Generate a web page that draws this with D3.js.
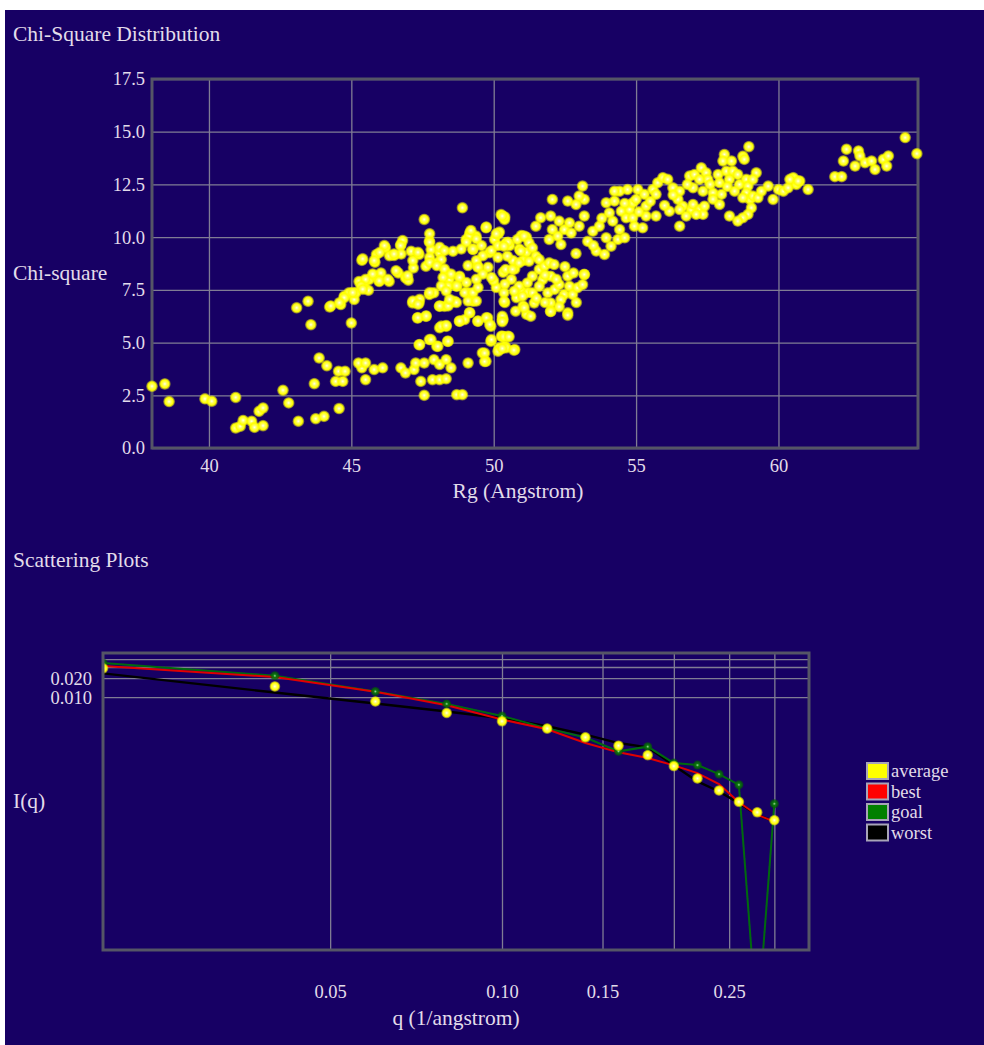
<!DOCTYPE html>
<html>
<head>
<meta charset="utf-8">
<script src="https://cdn.jsdelivr.net/npm/d3@7/dist/d3.min.js"></script>
<style>
  body { margin: 0; background: #fff; }
  svg { display: block; }
  text { font-family: "Liberation Serif", "Times New Roman", serif; fill: #e2dcea; }
  .grid line { stroke: #807c94; stroke-width: 1.3; }
  .grid path { display: none; }
  .lbl path, .lbl line { display: none; }
  .lbl text { font-size: 18.5px; fill: #e2dcea; font-family: "Liberation Serif", "Times New Roman", serif; }
</style>
</head>
<body>
<div id="chart"></div>
<script>
// chi-square scatter, [Rg, chi-square]
const chiPoints = [
  [38.0,2.93],[38.45,3.04],[38.6,2.2],[39.86,2.33],[40.1,2.22],[40.94,2.4],[40.94,0.95],[41.1,1.03],
  [41.2,1.31],[41.5,1.27],[41.6,0.98],[41.76,1.74],[41.9,1.9],[41.9,1.06],[42.6,2.74],[42.8,2.14],
  [43.14,1.27],[43.08,6.65],[43.48,6.96],[43.58,5.85],[43.7,3.05],[43.75,1.39],[44.04,1.5],[43.87,4.27],
  [44.14,3.9],[44.24,6.69],[44.57,1.87],[44.45,3.16],[44.55,3.64],[44.7,3.16],[44.78,3.64],[44.63,6.8],
  [44.75,7.2],[44.92,7.36],[45.1,7.04],[45.16,7.36],[45.0,5.93],[45.37,8.9],[45.27,7.9],[45.45,7.7],
  [45.6,7.48],[45.63,7.99],[45.86,8.15],[45.83,8.81],[45.88,9.18],[46.04,8.3],[45.98,7.9],[46.2,9.49],
  [46.33,7.9],[46.5,9.13],[46.74,9.65],[46.65,8.3],[46.9,8.07],[47.0,7.96],[47.1,9.33],[47.18,8.54],
  [47.38,9.18],[47.62,8.62],[47.74,9.81],[47.8,9.41],[47.56,10.84],[48.0,8.78],[48.1,9.26],[48.16,8.94],
  [48.33,8.3],[48.44,7.99],[48.57,9.33],[48.7,7.67],[48.8,8.15],[48.9,11.39],[49.03,9.89],[49.16,10.2],
  [49.27,9.41],[49.44,8.62],[49.38,10.05],[49.73,10.44],[49.85,9.26],[50.03,9.89],[50.26,11.07],[50.38,10.84],
  [50.43,9.73],[50.14,10.13],
  [47.15,6.88],[47.38,6.88],[47.32,6.17],[47.62,6.25],[47.74,7.28],[47.9,7.36],[48.1,6.72],[48.27,6.72],
  [48.4,7.67],[48.44,6.88],[48.62,6.96],[48.8,6.01],[48.98,6.09],[49.1,7.36],[49.16,6.41],[49.27,6.96],
  [49.44,6.01],[48.1,5.7],[48.33,5.77],[47.74,5.14],[48.0,4.83],[48.38,5.06],[47.38,4.9],[49.79,6.17],
  [49.9,5.77],[50.3,6.09],[50.3,5.3],[49.9,5.06],[50.2,4.67],
  [45.37,3.8],[45.25,4.03],[45.5,4.03],[45.5,3.24],[45.8,3.72],[46.1,3.8],[46.74,3.8],[46.9,3.56],
  [47.2,3.72],[47.26,4.03],[47.44,3.16],[47.56,4.03],[47.9,4.19],[48.1,3.96],[48.33,4.19],[48.5,3.8],
  [47.85,3.24],[48.1,3.24],[48.33,3.28],[47.56,2.5],[48.7,2.53],[48.9,2.53],[49.1,4.03],[49.6,4.51],
  [49.73,4.11],[50.2,4.75],[50.38,4.83],
  [50.39,10.96],[49.74,10.48],[50.2,10.24],[50.09,10.16],[50.97,10.08],[51.15,10.0],[50.56,9.6],[50.9,9.44],
  [51.15,9.28],[51.03,8.89],[50.74,8.49],[50.33,8.33],[50.62,8.0],[50.39,7.77],[50.09,7.61],[50.0,7.93],
  [50.97,7.45],[51.2,7.37],[50.8,7.13],[50.39,6.9],[51.03,6.74],[51.15,6.34],[50.33,6.1],[50.27,5.3],
  [50.5,5.3],[49.92,5.14],[50.15,4.59],[50.44,4.75],[50.74,4.67],[49.68,4.5],[49.68,4.1],
  [47.75,10.16],[47.75,9.76],[48.1,9.52],[48.27,9.36],[47.75,9.04],[47.75,8.8],[48.0,8.65],[48.27,8.49],
  [48.5,8.25],[48.8,8.09],[48.22,8.09],[48.16,7.69],[48.7,7.69],[48.33,7.45],[47.75,7.37],[47.4,7.05],
  [47.16,6.97],[47.34,6.82],[48.1,6.74],[48.4,6.74],[48.69,6.9],[48.45,7.05],[49.1,6.97],[49.39,6.97],
  [48.98,7.37],[49.27,7.37],[49.45,7.61],[49.45,6.02],[48.8,6.02],[49.15,6.42],[49.74,6.18],[49.86,5.86],
  [47.34,6.18],[47.63,6.26],[48.16,5.78],[48.33,5.81],[47.8,5.14],[48.04,4.82],[48.4,5.06],[47.4,4.9],
  [46.8,9.84],[46.73,9.6],[46.75,9.2],[47.16,8.89],[47.34,9.28],[46.98,8.17],[46.57,8.41],[46.16,9.6],
  [46.0,9.28],[46.34,9.12],[46.5,9.2],[45.8,8.89],[45.4,8.97],[45.98,7.93],[45.75,8.25],[45.5,8.0],
  [45.34,7.69],[46.28,8.0],[45.4,7.53],[45.05,7.37],[44.75,7.13],[44.58,6.89],[44.28,6.74],
  [49.15,10.08],[49.2,10.32],[49.39,9.92],[49.04,9.76],[48.86,9.44],[49.27,9.44],[49.57,9.6],[49.92,9.36],
  [49.62,9.12],[49.39,8.89],[49.1,8.65],[49.45,8.57],[49.8,8.57],[49.62,8.25],[49.92,8.09],[49.39,8.0],
  [49.04,7.85],[50.15,9.04],[50.15,9.6],[50.5,9.76],[50.68,8.89],
  [50.3,11.0],[50.36,9.57],[50.48,9.1],[50.42,8.47],[50.36,7.36],[50.3,6.25],[50.36,6.96],[50.83,9.89],
  [51.07,10.05],[51.24,9.73],[51.36,9.49],[50.95,9.34],[51.48,9.1],[50.89,8.78],[51.24,8.86],[51.6,8.94],
  [50.66,8.47],[51.6,8.47],[51.78,8.62],[51.95,8.78],[52.12,8.7],[52.0,8.15],[51.72,7.99],[51.36,8.15],
  [51.18,7.83],[50.89,7.67],[50.72,7.44],[51.01,7.2],[51.36,7.36],[51.6,7.67],[51.9,7.36],[52.14,7.52],
  [52.3,7.75],[52.6,8.15],[52.66,7.67],[52.47,7.28],[52.77,7.28],[52.94,7.6],[53.12,7.75],[53.18,8.23],
  [52.89,9.22],[52.36,9.65],[52.06,10.36],[52.48,10.36],[52.0,11.0],[51.65,10.92],[51.48,10.52],[52.06,11.79],
  [52.6,11.71],[52.89,11.55],[53.18,11.79],[53.0,11.95],[53.12,12.42],[53.18,11.0],[52.3,10.76],[52.66,10.68],
  [53.0,10.52],[52.72,10.2],[52.25,10.05],[51.95,9.89],[52.0,6.88],[52.6,6.41],[52.36,7.04],[52.0,6.49],
  [51.42,6.88],[51.07,6.65],[50.77,6.49],[51.3,6.25],
  [53.6,9.34],[53.89,9.18],[53.48,10.28],[53.71,10.52],[53.95,9.97],[54.12,9.57],[54.36,9.89],[54.6,9.97],
  [54.42,10.36],[54.18,10.76],[54.06,11.15],[53.95,11.63],[54.24,11.71],[54.42,12.18],[54.24,12.18],[54.48,11.23],
  [54.65,10.92],[54.77,11.31],[54.88,10.92],[54.94,10.52],[54.88,11.63],[54.7,12.26],[55.06,12.26],[55.29,12.03],
  [55.35,11.47],[55.23,10.44],[55.35,11.0],[55.0,11.79],[55.59,12.26],[55.76,12.58],[55.94,12.82],[56.11,12.74],
  [55.7,11.0],[56.17,11.23],[55.7,12.03],[56.29,12.34],[56.53,12.18],[56.53,10.52],[56.47,11.79],[56.64,11.47],
  [56.53,11.31],[56.94,11.31],[57.0,11.55],[57.23,11.31],[57.35,11.08],[57.11,11.08],[56.76,11.0],[57.4,11.47],
  [56.88,12.9],[57.05,12.97],[57.29,13.29],[57.46,13.05],[57.52,12.74],[57.23,12.74],[57.0,12.34],[57.35,12.18],
  [57.7,12.1],[57.88,12.97],[57.93,12.58],[58.0,12.03],[57.93,11.55],[58.1,13.92],[58.05,13.61],[58.35,13.61],
  [58.17,13.13],[58.4,13.13],[58.28,12.74],[58.57,12.97],[58.75,13.84],[58.8,13.69],[58.96,14.29],[58.63,12.5],
  [58.87,12.74],[58.93,12.42],[59.22,13.05],[59.1,12.74],[58.46,12.18],[58.87,12.1],[59.0,11.79],[58.75,11.87],
  [59.1,11.95],[59.28,11.87],[59.05,11.39],[58.93,11.08],[58.75,10.92],[58.57,10.76],[58.28,11.0],[59.4,12.18],
  [59.64,12.42],[59.81,11.79],[60.0,12.26],[60.17,12.18],[60.34,12.34],[60.52,12.82],[60.63,12.5],[60.75,12.66],
  [60.4,12.74],[60.69,12.66],[61.04,12.26],[61.98,12.87],[62.22,12.87],[62.28,13.61],[62.39,14.17],[62.69,13.37],
  [62.81,14.09],[62.86,13.85],[63.04,13.53],[63.27,13.61],[63.39,13.21],[63.68,13.69],[63.8,13.37],[63.86,13.85],
  [64.45,14.72],[64.86,13.96],
  [50.3,5.99],[50.36,5.28],[50.54,5.28],[50.3,4.72],[50.71,4.64],[52.0,6.47],[52.6,6.3],[53.18,8.23],
  [51.8,8.2],[52.2,8.0],[52.5,8.6],[52.8,8.3],[51.5,7.1],[51.8,6.9],[52.3,6.7],[52.9,6.9],
  [53.3,9.8],[53.5,9.6],[53.8,10.9],[54.6,11.6],[55.1,11.2],[56.0,11.5],[56.3,12.0],[57.6,12.5],
  [57.7,11.8],[58.2,12.4],[56.8,12.5],[55.5,11.7]
];
const rgTicks = [40, 45, 50, 55, 60];
const chiTicks = [0, 2.5, 5, 7.5, 10, 12.5, 15, 17.5];

// scattering curves
const qValues = [0.02,0.04,0.06,0.08,0.10,0.12,0.14,0.16,0.18,0.20,0.22,0.24,0.26,0.28,0.30];
const average = [0.0286,0.0148,0.00855,0.00563,0.00416,0.00319,0.00232,0.00171,0.00121,0.000812,0.000518,0.000334,0.000221,0.000151,0.000113];
const best    = [0.0310,0.0208,0.01214,0.00746,0.00443,0.0031,0.00188,0.00134,0.00109,0.000833,0.000629,0.000421,0.000218,0.000137,0.000108];
const goal    = [0.0347,0.0218,0.0123,0.00783,0.00505,0.00321,0.0023,0.00139,0.00165,0.000906,0.000842,0.000606,0.000411,6e-8,0.000206];
const worst   = [0.0238,0.01187,0.00794,0.00593,0.00464,0.00347,0.00256,0.00188,0.00161,0.000833,0.000464,0.000322,0.000211,0.000137,0.000108];
const qGridTicks = [0.05, 0.10, 0.15, 0.20, 0.25, 0.30];
const qLabelTicks = [0.05, 0.10, 0.15, 0.25];
const iGridTicks = [0.01, 0.02, 0.03, 0.04];
const iLabelTicks = [0.02, 0.01];
const legendItems = [
  {name: "average", color: "#ffff00"},
  {name: "best", color: "#ff0000"},
  {name: "goal", color: "#008000"},
  {name: "worst", color: "#000000"}
];

const W = 984, H = 1045;
const svg = d3.select("#chart").append("svg").attr("width", W).attr("height", H);

const defs = svg.append("defs");
const grad = defs.append("radialGradient").attr("id", "ydot");
grad.append("stop").attr("offset", "0%").attr("stop-color", "#ffffee");
grad.append("stop").attr("offset", "30%").attr("stop-color", "#ffff66");
grad.append("stop").attr("offset", "68%").attr("stop-color", "#ffff00");
grad.append("stop").attr("offset", "100%").attr("stop-color", "#ffff00").attr("stop-opacity", 0.25);
const ggrad = defs.append("radialGradient").attr("id", "gdot");
ggrad.append("stop").attr("offset", "0%").attr("stop-color", "#9fd09f");
ggrad.append("stop").attr("offset", "35%").attr("stop-color", "#0a7a0a");
ggrad.append("stop").attr("offset", "100%").attr("stop-color", "#005a00").attr("stop-opacity", 0.6);
defs.append("filter").attr("id", "soft")
  .append("feGaussianBlur").attr("stdDeviation", 0.6);

svg.append("rect").attr("x", 5).attr("y", 10).attr("width", W - 5).attr("height", H - 10)
  .attr("fill", "#170064");

// ---------- chi-square chart ----------
const x1 = d3.scaleLinear().domain([38, 64.9]).range([152, 918]);
const y1 = d3.scaleLinear().domain([0, 17.5]).range([448, 79]);

svg.append("text").attr("x", 13).attr("y", 41).attr("font-size", 21.5).text("Chi-Square Distribution");

svg.append("g").attr("class", "grid").attr("transform", "translate(0,448)")
  .call(d3.axisBottom(x1).tickValues(rgTicks).tickSize(-(448 - 79)).tickFormat(""));
svg.append("g").attr("class", "grid").attr("transform", "translate(152,0)")
  .call(d3.axisLeft(y1).tickValues(chiTicks).tickSize(-(918 - 152)).tickFormat(""));

svg.append("rect").attr("x", 152).attr("y", 79).attr("width", 918 - 152).attr("height", 448 - 79)
  .attr("fill", "none").attr("stroke", "#555566").attr("stroke-width", 3);

svg.append("g").attr("class", "lbl").attr("transform", "translate(0,448)")
  .call(d3.axisBottom(x1).tickValues(rgTicks).tickSize(0).tickPadding(11).tickFormat(d3.format("d")));
svg.append("g").attr("class", "lbl").attr("transform", "translate(152,0)")
  .call(d3.axisLeft(y1).tickValues(chiTicks).tickSize(0).tickPadding(7).tickFormat(d3.format(".1f")));

svg.append("text").attr("x", 13).attr("y", 280).attr("font-size", 21.5).text("Chi-square");
svg.append("text").attr("x", 518).attr("y", 498).attr("text-anchor", "middle").attr("font-size", 21.5)
  .text("Rg (Angstrom)");

svg.append("g").selectAll("circle").data(chiPoints).join("circle")
  .attr("cx", d => x1(d[0]))
  .attr("cy", d => y1(d[1]))
  .attr("r", 6)
  .attr("fill", "url(#ydot)");

// ---------- scattering chart ----------
const L = 103, R = 809, T = 653, B = 950;
const x2 = d3.scaleLog().domain([0.02, 0.345]).range([L, R]);
const y2 = d3.scaleLog().domain([1e-6, 0.05]).range([B, T]);

svg.append("text").attr("x", 13).attr("y", 567).attr("font-size", 21.5).text("Scattering Plots");

svg.append("g").attr("class", "grid").attr("transform", `translate(0,${B})`)
  .call(d3.axisBottom(x2).tickValues(qGridTicks).tickSize(-(B - T)).tickFormat(""));
svg.append("g").attr("class", "grid").attr("transform", `translate(${L},0)`)
  .call(d3.axisLeft(y2).tickValues(iGridTicks).tickSize(-(R - L)).tickFormat(""));

svg.append("g").attr("class", "lbl").attr("transform", `translate(0,${B})`)
  .call(d3.axisBottom(x2).tickValues(qLabelTicks).tickSize(0).tickPadding(35).tickFormat(d3.format(".2f")));
svg.append("g").attr("class", "lbl").attr("transform", `translate(${L},0)`)
  .call(d3.axisLeft(y2).tickValues(iLabelTicks).tickSize(0).tickPadding(11).tickFormat(d3.format(".3f")));

defs.append("clipPath").attr("id", "plot2")
  .append("rect").attr("x", L).attr("y", T).attr("width", R - L).attr("height", B - T);

const plot = svg.append("g").attr("clip-path", "url(#plot2)");
const line = vals => d3.line().x((d, i) => x2(qValues[i])).y(d => y2(d))(vals);

plot.append("path").attr("d", line(worst)).attr("fill", "none").attr("stroke", "#000")
  .attr("stroke-width", 2.4).attr("filter", "url(#soft)");
plot.append("path").attr("d", line(goal)).attr("fill", "none").attr("stroke", "#006a10")
  .attr("stroke-width", 2).attr("filter", "url(#soft)");
plot.append("path").attr("d", line(best)).attr("fill", "none").attr("stroke", "#e00000")
  .attr("stroke-width", 2).attr("filter", "url(#soft)");

plot.append("g").selectAll("circle").data(goal).join("circle")
  .attr("cx", (d, i) => x2(qValues[i]))
  .attr("cy", d => y2(d))
  .attr("r", 4.5)
  .attr("fill", "url(#gdot)");
plot.append("g").selectAll("circle").data(average).join("circle")
  .attr("cx", (d, i) => x2(qValues[i]))
  .attr("cy", d => y2(d))
  .attr("r", 5.5)
  .attr("fill", "url(#ydot)");

svg.append("rect").attr("x", L).attr("y", T).attr("width", R - L).attr("height", B - T)
  .attr("fill", "none").attr("stroke", "#555566").attr("stroke-width", 3);

svg.append("text").attr("x", 13).attr("y", 808).attr("font-size", 21.5).text("I(q)");
svg.append("text").attr("x", 456).attr("y", 1025).attr("text-anchor", "middle").attr("font-size", 21.5)
  .text("q (1/angstrom)");

// legend
const leg = svg.append("g").attr("transform", "translate(866,762)");
const row = leg.selectAll("g").data(legendItems).join("g")
  .attr("transform", (d, i) => `translate(0,${i * 20.5})`);
row.append("rect").attr("x", 1).attr("y", 1).attr("width", 21).attr("height", 16)
  .attr("fill", d => d.color).attr("stroke", "#a8a4b8").attr("stroke-width", 2);
row.append("text").attr("x", 25).attr("y", 15).attr("font-size", 18.5).text(d => d.name);
</script>
</body>
</html>
